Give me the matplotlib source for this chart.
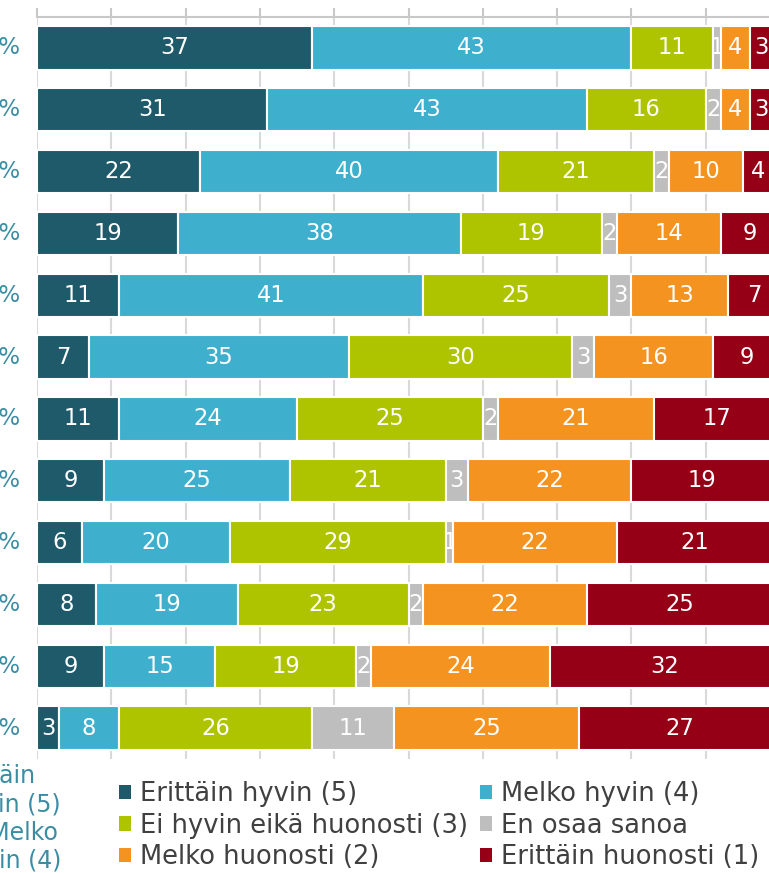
import numpy as np
import matplotlib
matplotlib.use("Agg")
import matplotlib.pyplot as plt
from matplotlib.patches import Patch

# answer categories (stack order, left to right)
categories = ['Erittäin hyvin (5)', 'Melko hyvin (4)', 'Ei hyvin eikä huonosti (3)',
              'En osaa sanoa', 'Melko huonosti (2)', 'Erittäin huonosti (1)']
colors = ['#1f5a6a', '#3eb0cd', '#aec400', '#bebebe', '#f59320', '#950017']

# percentages per row, top to bottom
very_good = [37, 31, 22, 19, 11, 7, 11, 9, 6, 8, 9, 3]
fairly_good = [43, 43, 40, 38, 41, 35, 24, 25, 20, 19, 15, 8]
neutral = [11, 16, 21, 19, 25, 30, 25, 21, 29, 23, 19, 26]
dont_know = [1, 2, 2, 2, 3, 3, 2, 3, 1, 2, 2, 11]
fairly_bad = [4, 4, 10, 14, 13, 16, 21, 22, 22, 22, 24, 25]
very_bad = [3, 3, 4, 9, 7, 9, 17, 19, 21, 25, 32, 27]

series = [very_good, fairly_good, neutral, dont_know, fairly_bad, very_bad]
n_rows = len(very_good)

fig = plt.figure(figsize=(7.69, 8.73), dpi=100)
W, H = 769, 873
ax = fig.add_axes([37 / W, 1 - 759 / H, 743 / W, 742 / H])

y = np.arange(n_rows)
left = np.zeros(n_rows)
for vals, col in zip(series, colors):
    vals = np.array(vals)
    bars = ax.barh(y, vals, left=left, height=0.7, color=col,
                   edgecolor='white', linewidth=1.5, zorder=3)
    ax.bar_label(bars, labels=[str(v) for v in vals], label_type='center',
                 color='white', fontsize=16.3)
    left += vals

# left column: share of (5) + (4)
for i in range(n_rows):
    total = very_good[i] + fairly_good[i]
    ax.annotate(f"{total} %", xy=(0, i), xytext=(-12, 0), textcoords='offset points',
                ha='right', va='center', color='#3b8da3', fontsize=16.5,
                annotation_clip=False)

ax.set_xlim(0, 100)
ax.set_ylim(n_rows - 0.5, -0.5)
ax.set_xticks(np.arange(0, 101, 10))
ax.set_yticks([])
ax.xaxis.tick_top()
ax.tick_params(axis='x', labeltop=False, length=6.5, width=1.5, color='#c8c8c8')
for s in ['left', 'right', 'bottom']:
    ax.spines[s].set_visible(False)
ax.spines['top'].set_color('#c8c8c8')
ax.spines['top'].set_linewidth(1.5)
ax.xaxis.grid(True, color='#d9d9d9', linewidth=1.5, zorder=0)
ax.set_axisbelow(True)

# header of the left column (cut off at the figure edge)
header = ['Erittäin', 'hyvin (5)', '+ Melko', 'hyvin (4)']
header_x = [36, 61, 58, 61]
header_y = [783, 812, 840, 868]
for txt, hx, hy in zip(header, header_x, header_y):
    fig.text(hx / W, 1 - hy / H, txt, ha='right', va='baseline',
             color='#3b8da3', fontsize=17)

order = [0, 2, 4, 1, 3, 5]
handles = [Patch(facecolor=colors[k], edgecolor='none') for k in order]
labels = [categories[k] for k in order]
fig.legend(handles, labels, ncol=2, loc='upper left',
           bbox_to_anchor=(119 / W, 1 - 781 / H), frameon=False,
           fontsize=18.5, handlelength=0.47, handleheight=0.47,
           handletextpad=0.35, columnspacing=0.47, labelspacing=0.22,
           borderpad=0, borderaxespad=0, labelcolor='#404040')

fig.savefig('out.png', dpi=100)
